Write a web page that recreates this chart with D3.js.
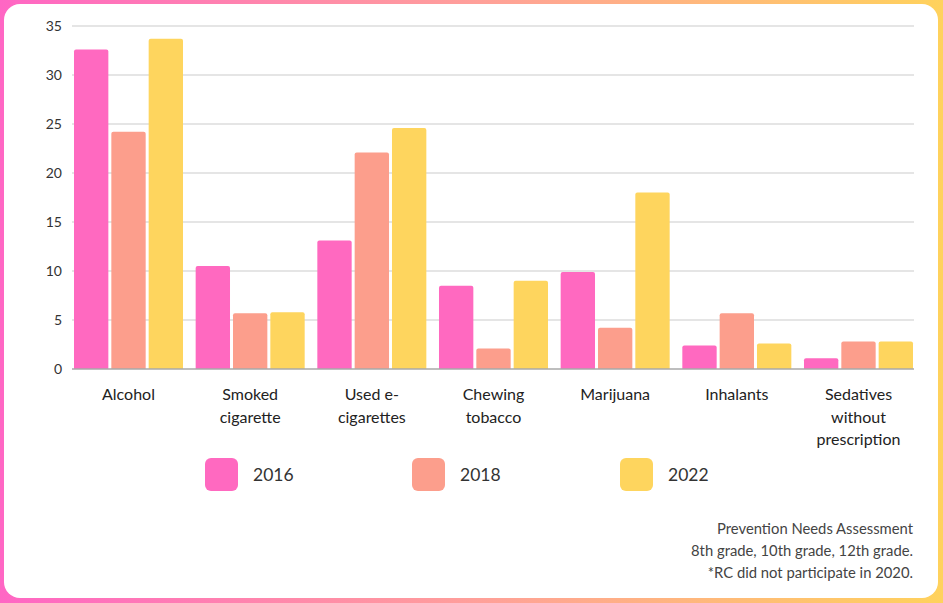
<!DOCTYPE html>
<html>
<head>
<meta charset="utf-8">
<script src="https://cdn.jsdelivr.net/npm/d3@7/dist/d3.min.js"></script>
<style>
  html, body { margin: 0; padding: 0; background: #fff; }
  svg { display: block; }
  text { font-family: Lato, "Open Sans", "Noto Sans", sans-serif; }
</style>
</head>
<body>
<svg id="chart" width="943" height="603"></svg>
<script>
// Substance categories (x axis, multi-line labels)
const categories = ["Alcohol", "Smoked cigarette", "Used e-cigarettes", "Chewing tobacco", "Marijuana", "Inhalants", "Sedatives without prescription"];
const categoryLines = [["Alcohol"], ["Smoked", "cigarette"], ["Used e-", "cigarettes"], ["Chewing", "tobacco"], ["Marijuana"], ["Inhalants"], ["Sedatives", "without", "prescription"]];

// Survey years (series)
const years = ["2016", "2018", "2022"];
const values2016 = [32.6, 10.5, 13.1, 8.5, 9.9, 2.4, 1.1];
const values2018 = [24.2, 5.7, 22.1, 2.1, 4.2, 5.7, 2.8];
const values2022 = [33.7, 5.8, 24.6, 9.0, 18.0, 2.6, 2.8];
const seriesValues = [values2016, values2018, values2022];

const yTicks = [0, 5, 10, 15, 20, 25, 30, 35];
const colors = ["#ff69c0", "#fc9e8c", "#fed55e"];
const footnote = ["Prevention Needs Assessment", "8th grade, 10th grade, 12th grade.", "*RC did not participate in 2020."];

const W = 943, H = 603;
const svg = d3.select("#chart");
const defs = svg.append("defs");

// Gradient frame
const grad = defs.append("linearGradient").attr("id", "frame").attr("x1", "0").attr("x2", "1").attr("y1", "0").attr("y2", "0");
grad.append("stop").attr("offset", "0%").attr("stop-color", "#ff66c4");
grad.append("stop").attr("offset", "50%").attr("stop-color", "#ff9f9a");
grad.append("stop").attr("offset", "100%").attr("stop-color", "#ffd25c");
svg.append("rect").attr("width", W).attr("height", H).attr("fill", "url(#frame)");
svg.append("rect").attr("x", 4).attr("y", 4).attr("width", 934).attr("height", 594)
  .attr("rx", 16).attr("fill", "#ffffff");

// Scales
const x0 = d3.scaleBand().domain(categories).range([74, 913]).paddingInner(0.104).paddingOuter(0);
const x1 = d3.scaleBand().domain(years).range([0, x0.bandwidth()]).paddingInner(0.08);
const y = d3.scaleLinear().domain([0, 35]).range([369, 26]);

// Gridlines
svg.append("g").selectAll("line").data(yTicks.filter(d => d > 0)).join("line")
  .attr("x1", 72).attr("x2", 914)
  .attr("y1", d => y(d)).attr("y2", d => y(d))
  .attr("stroke", "#dddddd").attr("stroke-width", 1.5);

// Y axis labels
const yAxis = d3.axisLeft(y).tickValues(yTicks).tickSize(0).tickPadding(0);
const gy = svg.append("g").attr("transform", "translate(62,0)").call(yAxis);
gy.select(".domain").remove();
gy.selectAll("text").attr("font-size", 14).attr("fill", "#333")
  .style("font-family", "Lato, 'Open Sans', sans-serif");

// Bars
const groups = svg.append("g").selectAll("g").data(categories).join("g")
  .attr("transform", d => `translate(${x0(d)},0)`);
groups.selectAll("path").data((d, i) => years.map((yr, k) => ({ yr, v: seriesValues[k][i], k })))
  .join("path")
  .attr("fill", d => colors[d.k])
  .attr("d", d => {
    const bx = x1(d.yr), bw = x1.bandwidth(), top = y(d.v), bot = y(0), r = Math.min(2, bot - top);
    return `M${bx},${bot}V${top + r}Q${bx},${top} ${bx + r},${top}H${bx + bw - r}Q${bx + bw},${top} ${bx + bw},${top + r}V${bot}Z`;
  });

// Baseline
svg.append("line").attr("x1", 72).attr("x2", 914).attr("y1", y(0)).attr("y2", y(0))
  .attr("stroke", "#a8a8a8").attr("stroke-width", 1.5);

// Category labels
const lab = svg.append("g").selectAll("text").data(categories).join("text")
  .attr("x", d => x0(d) + x0.bandwidth() / 2)
  .attr("y", 400)
  .attr("text-anchor", "middle")
  .attr("font-size", 16)
  .attr("fill", "#222");
lab.selectAll("tspan").data((d, i) => categoryLines[i]).join("tspan")
  .attr("x", function () { return d3.select(this.parentNode).attr("x"); })
  .attr("dy", (d, j) => j === 0 ? 0 : 22.5)
  .text(d => d);

// Legend
const legendX = [205, 412, 620];
const leg = svg.append("g").selectAll("g").data(years).join("g")
  .attr("transform", (d, i) => `translate(${legendX[i]},458)`);
leg.append("rect").attr("width", 33).attr("height", 33).attr("rx", 6)
  .attr("fill", (d, i) => colors[i]);
leg.append("text").attr("x", 48).attr("y", 16.5).attr("dy", "0.35em")
  .attr("font-size", 17.5).attr("fill", "#333").text(d => d);

// Footnote
svg.append("g").selectAll("text").data(footnote).join("text")
  .attr("x", 913).attr("y", (d, i) => 534 + i * 22)
  .attr("text-anchor", "end").attr("font-size", 14.8).attr("fill", "#444")
  .text(d => d);
</script>
</body>
</html>
